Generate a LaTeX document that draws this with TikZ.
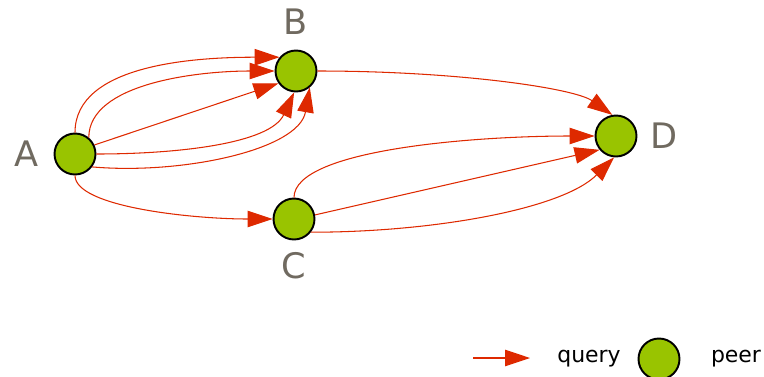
\documentclass[tikz,border=0pt]{standalone}
\usepackage{fontspec}
\setmainfont{DejaVu Sans}
\usetikzlibrary{arrows.meta,positioning}
\definecolor{peergreen}{RGB}{153,196,0}
\definecolor{queryred}{RGB}{222,41,0}
\definecolor{taggrey}{RGB}{112,106,96}
\tikzset{
  peer/.style={circle, draw=black, line width=1.1pt, fill=peergreen,
    minimum size=0.82cm, inner sep=0pt},
  tag/.style={text=taggrey, inner sep=0pt, font=\fontsize{20}{24}\selectfont},
  legendtext/.style={inner sep=0pt, anchor=base, font=\fontsize{12.5}{15}\selectfont},
  query/.style={draw=queryred, line width=0.6pt,
    -{Triangle[length=0.5cm, width=0.33cm]}}
}

\begin{document}
\begin{tikzpicture}[x=0.02cm, y=-0.02cm]
  \useasboundingbox (0,0) rectangle (764,376);

  \node [peer] (a) at (75,154) {};
  \node [peer] (b) at (296,71) {};
  \node [peer] (c) at (294,219) {};
  \node [peer] (d) at (616,136) {};

  \node [tag, left=0.3cm of a] (la) {A};
  \node [tag, above=0.29cm of b] (lb) {B};
  \node [tag, below=0.23cm of c] (lc) {C};
  \node [tag, right=0.26cm of d] (ld) {D};

  \draw [query] (a.north) to [out=90, in=180, out looseness=0.8] (b.140);
  \draw [query] (a.50) to [out=90, in=180, out looseness=0.7] (b.west);
  \draw [query] (a.25) -- (b.215);
  \draw [query] (a.east) to [out=0, in=-115, in looseness=0.7] (b.265);
  \draw [query] (a.-37) to [out=-5, in=-100, in looseness=0.7] (b.-50);
  \draw [query] (a.south) to [out=-90, in=180, out looseness=0.4] (c.west);
  \draw [query] (b.east) to [out=0, in=145, out looseness=1.2, in looseness=0.4] (d.100);
  \draw [query] (c.north) to [out=90, in=180, out looseness=0.4] (d.west);
  \draw [query] (c.11) -- (d.220);
  \draw [query] (c.-38) to [out=0, in=-135, in looseness=0.6] (d.-95);

  \coordinate (q0) at (473,358);
  \coordinate (q1) at (530,358);
  \draw [query] (q0) -- (q1);
  \node [legendtext] (lq) at (589,362) {query};
  \node [peer] (lp) at (659,359) {};
  \node [legendtext] (lpeer) at (736,362) {peer};
\end{tikzpicture}
\end{document}
